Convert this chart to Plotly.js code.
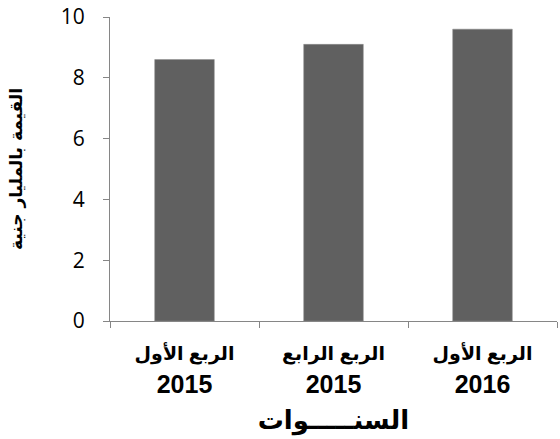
<!DOCTYPE html>
<html>
<head>
<meta charset="utf-8">
<script src="https://cdn.plot.ly/plotly-3.0.1.min.js"></script>
<style>html,body{margin:0;padding:0;background:#fff;}#chart{width:560px;height:439px;}</style>
</head>
<body>
<div id="chart"></div>
<script>
var quarters = ["الربع الأول", "الربع الرابع", "الربع الأول"];
var years = ["2015", "2015", "2016"];
var categories = ["Q1-2015", "Q4-2015", "Q1-2016"];
var values = [8.6, 9.1, 9.6];
var yTickVals = [0, 2, 4, 6, 8, 10];
var xTitle = "السنـــــوات";
var yTitle = "القيمة بالمليار جنية";

var tickText = quarters.map(function (q, i) {
  return '<span style="font-size:19px">' + q + '</span><br>' + years[i];
});

var trace = {
  type: "bar",
  x: categories,
  y: values,
  marker: { color: "#606060", line: { color: "#8a8a8a", width: 0.5 } },
  hoverinfo: "none"
};

var axisColor = "#868686";
var layout = {
  width: 560,
  height: 439,
  margin: { l: 110, r: 3, t: 17, b: 118 },
  paper_bgcolor: "#ffffff",
  plot_bgcolor: "#ffffff",
  showlegend: false,
  bargap: 0.6,
  xaxis: {
    type: "category",
    tickvals: categories,
    ticktext: tickText,
    tickson: "boundaries",
    ticks: "outside",
    ticklen: 6,
    tickcolor: axisColor,
    showline: true,
    linecolor: axisColor,
    linewidth: 1,
    showgrid: false,
    zeroline: false,
    fixedrange: true,
    ticklabelstandoff: 8,
    tickfont: { family: "Liberation Sans, DejaVu Sans, sans-serif", size: 25, color: "#000", weight: "bold" },
    title: {
      text: xTitle,
      font: { family: "Liberation Sans, DejaVu Sans, sans-serif", size: 26, color: "#000", weight: "bold" },
      standoff: 14
    }
  },
  yaxis: {
    range: [0, 10],
    tickvals: yTickVals,
    ticks: "outside",
    ticklen: 6,
    tickcolor: axisColor,
    showline: true,
    linecolor: axisColor,
    linewidth: 1,
    showgrid: false,
    zeroline: false,
    fixedrange: true,
    ticklabelstandoff: 14,
    tickfont: { family: "Open Sans, Liberation Sans, sans-serif", size: 21, color: "#000" },
    title: {
      text: yTitle,
      font: { family: "DejaVu Sans, sans-serif", size: 17, color: "#000", weight: "bold" },
      standoff: 33
    }
  }
};

Plotly.newPlot("chart", [trace], layout, { displayModeBar: false, staticPlot: true });
</script>
</body>
</html>
